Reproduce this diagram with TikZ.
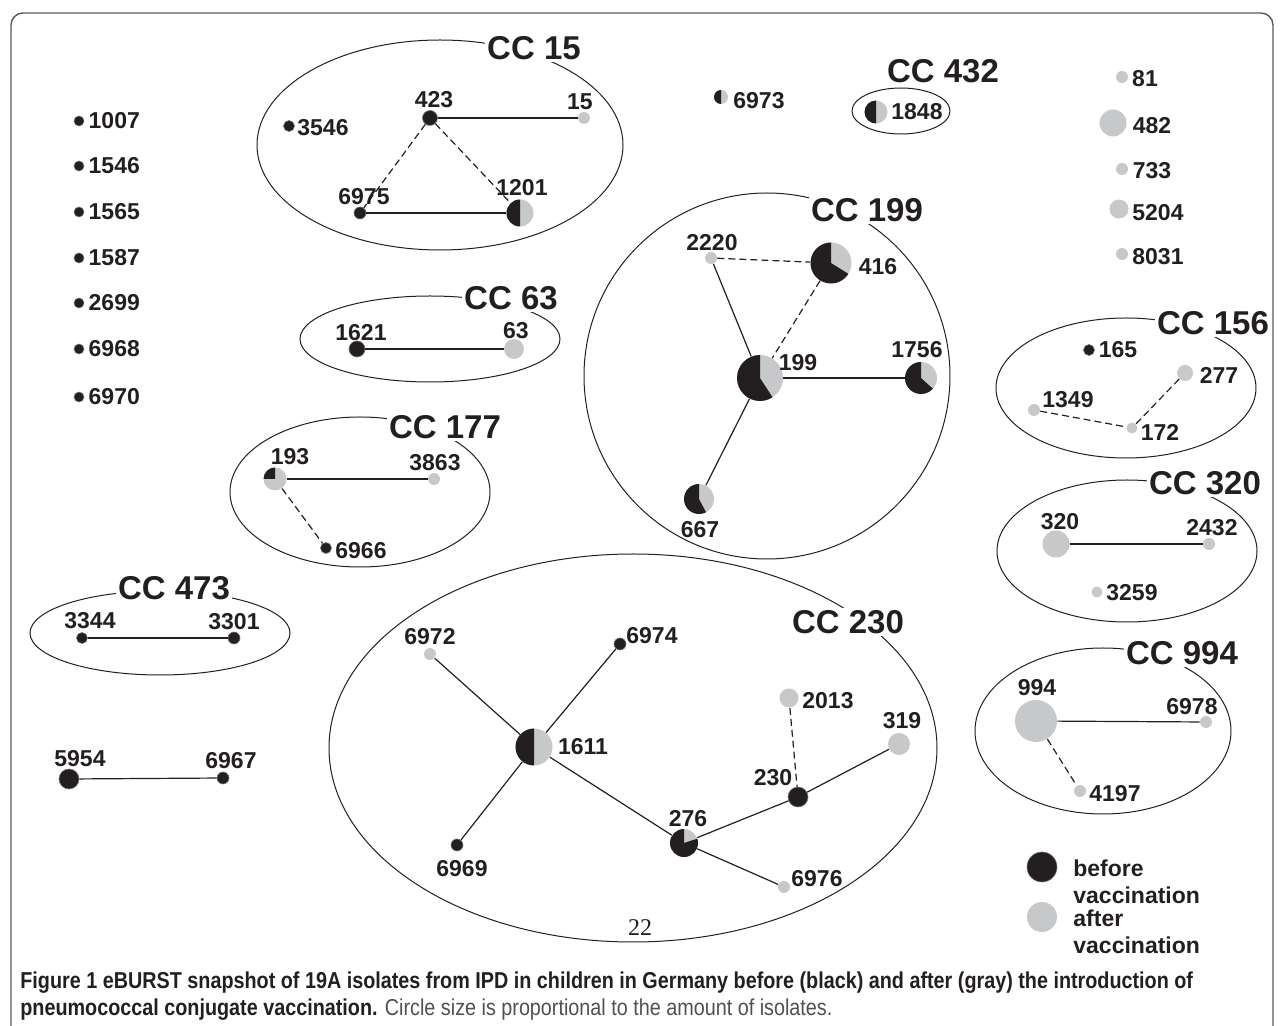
\documentclass[tikz,border=0pt]{standalone}
\usepackage{fontspec}
\setmainfont{Liberation Sans}
\newfontfamily\pagenofont{Liberation Serif}
\newfontfamily\capfont[FakeStretch=0.86]{Liberation Sans}
\usetikzlibrary{positioning}
\definecolor{stblack}{RGB}{35,31,32}
\definecolor{stgray}{RGB}{199,200,202}
\definecolor{capgray}{RGB}{80,80,80}

\begin{document}
\begin{tikzpicture}[x=0.5pt,y=-0.5pt]
    % Styles for the sequence types and the clonal complexes
    \tikzset{
        st/.style={circle, inner sep=0pt, minimum size=#1, fill=stgray},
        before/.style={fill=stblack, draw=black!55, line width=0.3pt},
        pie/.style={path picture={\fill[stblack] (path picture bounding box.center) -- ++(90:15pt) arc[start angle=90, end angle=#1, radius=15pt] -- cycle;}},
        st label/.style={font=\bfseries\fontsize{11.5}{13.3}\selectfont, text=stblack, inner sep=0pt},
        cc label/.style={font=\bfseries\fontsize{16.5}{18}\selectfont, text=stblack, fill=white, inner sep=1pt},
        cc ring/.style={draw=stblack, line width=0.5pt},
        link/.style={draw=stblack, line width=0.6pt},
        weak link/.style={link, dash pattern=on 3.5pt off 2pt}
    }
    \useasboundingbox (0,0) rectangle (1282,1026);

    % Frame
    \draw[black!65, line width=0.7pt, rounded corners=6pt] (11,1060) -- (11,13) -- (1273,13) -- (1273,1060);

    % Singletons on the left
    \foreach \n/\y in {1007/121, 1546/166, 1565/212, 1587/258, 2699/303, 6968/349, 6970/397} {
        \node[st=5pt, before] (s\n) at (79,\y) {};
        \node[st label, right=2pt of s\n] (t\n) {\n};
    }

    % Singletons on the right
    \node[st=6pt] (s81) at (1122,77) {};
    \node[st label] (t81) at (1145,79) {81};
    \node[st=13.5pt] (s482) at (1113,123) {};
    \node[st label] (t482) at (1152,126) {482};
    \node[st=6pt] (s733) at (1122,169) {};
    \node[st label] (t733) at (1152,171) {733};
    \node[st=9.5pt] (s5204) at (1119,209) {};
    \node[st label] (t5204) at (1158,213) {5204};
    \node[st=6pt] (s8031) at (1122,254) {};
    \node[st label] (t8031) at (1158,257) {8031};

    \node[st=7pt, pie=270] (s6973) at (721,97) {};
    \node[st label] (t6973) at (759,101) {6973};

    % CC 15
    \draw[cc ring] (440,145) ellipse [x radius=183, y radius=105];
    \node[cc label] (cc15) at (534,48) {CC 15};
    \node[st=5.5pt, before] (n3546) at (289,126) {};
    \node[st label] (t3546) at (323,128) {3546};
    \node[st=7.5pt, before] (n423) at (430,118) {};
    \node[st label] (t423) at (434,100) {423};
    \node[st=6pt] (n15) at (584,118) {};
    \node[st label] (t15) at (580,102) {15};
    \node[st=6pt, before] (n6975) at (360,213) {};
    \node[st label] (t6975) at (364,197) {6975};
    \node[st=13.5pt, pie=270] (n1201) at (520,213) {};
    \node[st label] (t1201) at (522,188) {1201};
    \draw[link] (n423) -- (n15);
    \draw[link] (n6975) -- (n1201);
    \draw[weak link] (n423) -- (n6975);
    \draw[weak link] (n423) -- (n1201);

    % CC 432
    \draw[cc ring] (901,111) ellipse [x radius=49, y radius=23];
    \node[cc label] (cc432) at (943,71) {CC 432};
    \node[st=11.5pt, pie=270] (n1848) at (876,112) {};
    \node[st label] (t1848) at (917,112) {1848};

    % CC 63
    \draw[cc ring] (430,339) ellipse [x radius=130, y radius=43];
    \node[cc label] (cc63) at (511,298) {CC 63};
    \node[st=8pt, before] (n1621) at (357,349) {};
    \node[st label] (t1621) at (361,333) {1621};
    \node[st=10pt] (n63) at (514,349) {};
    \node[st label] (t63) at (516,331) {63};
    \draw[link] (n1621) -- (n63);

    % CC 177
    \draw[cc ring] (360,492) ellipse [x radius=130, y radius=75];
    \node[cc label] (cc177) at (445,427) {CC 177};
    \node[st=11.5pt, pie=180] (n193) at (275,479) {};
    \node[st label] (t193) at (290,457) {193};
    \node[st=6pt] (n3863) at (434,479) {};
    \node[st label] (t3863) at (435,463) {3863};
    \node[st=5.5pt, before] (n6966) at (326,548) {};
    \node[st label] (t6966) at (361,551) {6966};
    \draw[link] (n193) -- (n3863);
    \draw[weak link] (n193) -- (n6966);

    % CC 473
    \draw[cc ring] (160,633) ellipse [x radius=130, y radius=42];
    \node[cc label] (cc473) at (174,588) {CC 473};
    \node[st=5.5pt, before] (n3344) at (82,638) {};
    \node[st label] (t3344) at (90,621) {3344};
    \node[st=6pt, before] (n3301) at (234,638) {};
    \node[st label] (t3301) at (234,622) {3301};
    \draw[link] (n3344) -- (n3301);

    % Pair without a complex
    \node[st=10pt, before] (n5954) at (69,779) {};
    \node[st label] (t5954) at (80,759) {5954};
    \node[st=6pt, before] (n6967) at (223,778) {};
    \node[st label] (t6967) at (231,761) {6967};
    \draw[link] (n5954) -- (n6967);

    % CC 199
    \draw[cc ring] (767,376) circle [radius=183];
    \node[cc label] (cc199) at (867,210) {CC 199};
    \node[st=6pt] (n2220) at (711,258) {};
    \node[st label] (t2220) at (712,243) {2220};
    \node[st=20.5pt, pie=328] (n416) at (831,263) {};
    \node[st label] (t416) at (878,267) {416};
    \node[st=23pt, pie=303] (n199) at (760,378) {};
    \node[st label] (t199) at (798,363) {199};
    \node[st=16pt, pie=318] (n1756) at (921,378) {};
    \node[st label] (t1756) at (917,350) {1756};
    \node[st=15pt, pie=298] (n667) at (699,499) {};
    \node[st label] (t667) at (700,530) {667};
    \draw[weak link] (n2220) -- (n416);
    \draw[weak link] (n416) -- (n199);
    \draw[link] (n2220) -- (n199);
    \draw[link] (n199) -- (n1756);
    \draw[link] (n199) -- (n667);

    % CC 230
    \draw[cc ring] (633,748) ellipse [x radius=304, y radius=194];
    \node[cc label] (cc230) at (848,622) {CC 230};
    \node[st=6pt] (n6972) at (430,654) {};
    \node[st label] (t6972) at (430,637) {6972};
    \node[st=6pt, before] (n6974) at (620,644) {};
    \node[st label] (t6974) at (652,636) {6974};
    \node[st=18.5pt, pie=270] (n1611) at (534,747) {};
    \node[st label] (t1611) at (583,747) {1611};
    \node[st=6pt, before] (n6969) at (457,845) {};
    \node[st label] (t6969) at (462,869) {6969};
    \node[st=14pt, pie=378] (n276) at (684,843) {};
    \node[st label] (t276) at (688,819) {276};
    \node[st=10pt, before] (n230) at (798,797) {};
    \node[st label] (t230) at (773,778) {230};
    \node[st=9.5pt] (n2013) at (789,698) {};
    \node[st label] (t2013) at (828,701) {2013};
    \node[st=11pt] (n319) at (899,744) {};
    \node[st label] (t319) at (902,721) {319};
    \node[st=6pt] (n6976) at (784,887) {};
    \node[st label] (t6976) at (817,879) {6976};
    \draw[link] (n6972) -- (n1611);
    \draw[link] (n6974) -- (n1611);
    \draw[link] (n1611) -- (n6969);
    \draw[link] (n1611) -- (n276);
    \draw[link] (n276) -- (n230);
    \draw[link] (n230) -- (n319);
    \draw[link] (n276) -- (n6976);
    \draw[weak link] (n2013) -- (n230);
    \node[font=\pagenofont\fontsize{12}{14}\selectfont, text=stblack] (pageno) at (640,928) {22};

    % CC 156
    \draw[cc ring] (1126,388) ellipse [x radius=130, y radius=70];
    \node[cc label] (cc156) at (1213,323) {CC 156};
    \node[st=5.5pt, before] (n165) at (1089,350) {};
    \node[st label] (t165) at (1118,350) {165};
    \node[st=8pt] (n277) at (1185,373) {};
    \node[st label] (t277) at (1219,375) {277};
    \node[st=6pt] (n1349) at (1034,410) {};
    \node[st label] (t1349) at (1068,400) {1349};
    \node[st=5.5pt] (n172) at (1132,428) {};
    \node[st label] (t172) at (1160,432) {172};
    \draw[weak link] (n1349) -- (n172);
    \draw[weak link] (n172) -- (n277);

    % CC 320
    \draw[cc ring] (1127,551) ellipse [x radius=130, y radius=71];
    \node[cc label] (cc320) at (1205,483) {CC 320};
    \node[st=13.5pt] (n320) at (1056,544) {};
    \node[st label] (t320) at (1060,522) {320};
    \node[st=6pt] (n2432) at (1209,544) {};
    \node[st label] (t2432) at (1212,528) {2432};
    \node[st=5.5pt] (n3259) at (1097,592) {};
    \node[st label] (t3259) at (1132,593) {3259};
    \draw[link] (n320) -- (n2432);

    % CC 994
    \draw[cc ring] (1103,731) ellipse [x radius=128, y radius=83];
    \node[cc label] (cc994) at (1182,653) {CC 994};
    \node[st=21pt] (n994) at (1036,721) {};
    \node[st label] (t994) at (1037,688) {994};
    \node[st=6pt] (n6978) at (1206,722) {};
    \node[st label] (t6978) at (1192,707) {6978};
    \node[st=6pt] (n4197) at (1080,791) {};
    \node[st label] (t4197) at (1115,794) {4197};
    \draw[link] (n994) -- (n6978);
    \draw[weak link] (n994) -- (n4197);

    % Legend
    \node[st=15pt, before] (keybefore) at (1042,867) {};
    \node[st label, anchor=west, align=left] (tbefore) at (1073,882) {before\\vaccination};
    \node[st=15pt] (keyafter) at (1042,917) {};
    \node[st label, anchor=west, align=left] (tafter) at (1073,932) {after\\vaccination};

    % Caption
    \node[anchor=west, inner sep=0pt, font=\capfont\fontsize{11.5}{14}\selectfont, text=stblack] (cap1) at (20,983) {\bfseries Figure 1 eBURST snapshot of 19A isolates from IPD in children in Germany before (black) and after (gray) the introduction of};
    \node[anchor=west, inner sep=0pt, font=\capfont\fontsize{11.5}{14}\selectfont, text=stblack] (cap2) at (20,1010) {\textbf{pneumococcal conjugate vaccination.} \textcolor{capgray}{Circle size is proportional to the amount of isolates.}};
\end{tikzpicture}
\end{document}
